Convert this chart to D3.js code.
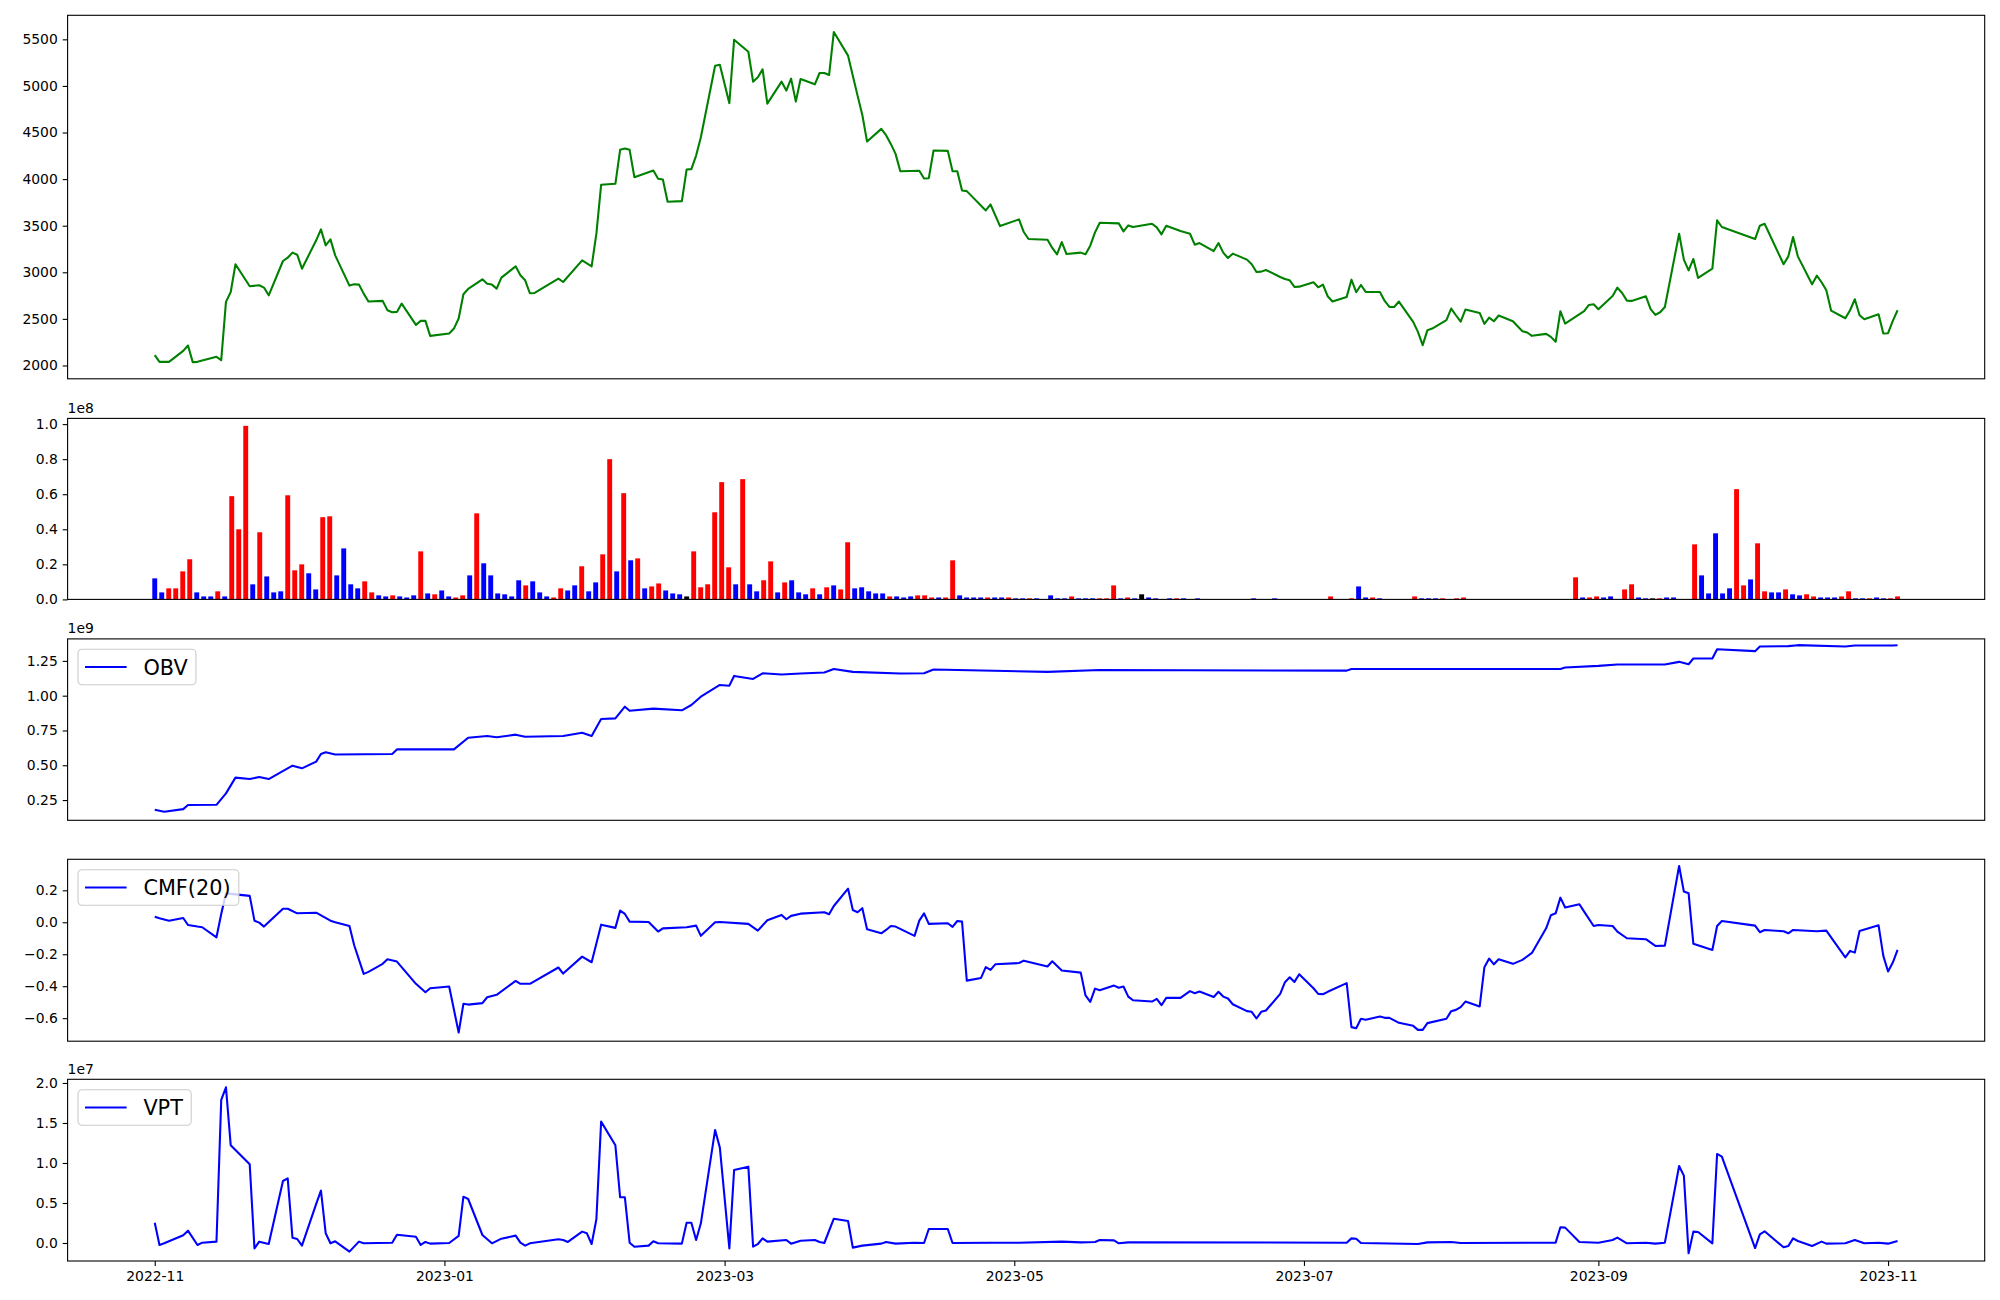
<!DOCTYPE html>
<html lang="en">
<head>
<meta charset="UTF-8">
<title>Price, volume and volume indicators</title>
<script src="https://d3js.org/d3.v7.min.js"></script>
<style>
  body { margin: 0; background: #fff; }
  svg text { font-family: "DejaVu Sans", sans-serif; }
</style>
</head>
<body>
<svg id="chart"></svg>
<script>
// closing price (trading days where the line bends)
const closePrice = [
["2022-11-01",2111],["2022-11-02",2039],["2022-11-04",2039],["2022-11-07",2157],["2022-11-08",2214],["2022-11-09",2036],["2022-11-10",2039],["2022-11-14",2093],["2022-11-15",2057],["2022-11-16",2682],["2022-11-17",2789],["2022-11-18",3086],["2022-11-21",2850],["2022-11-23",2861],["2022-11-24",2836],["2022-11-25",2753],["2022-11-28",3121],["2022-11-29",3157],["2022-11-30",3211],
["2022-12-01",3189],["2022-12-02",3039],["2022-12-05",3343],["2022-12-06",3461],["2022-12-07",3289],["2022-12-08",3353],["2022-12-09",3182],["2022-12-12",2857],["2022-12-13",2871],["2022-12-14",2868],["2022-12-15",2771],["2022-12-16",2686],["2022-12-19",2693],["2022-12-20",2593],["2022-12-21",2571],["2022-12-22",2575],["2022-12-23",2664],["2022-12-26",2436],["2022-12-27",2479],["2022-12-28",2479],["2022-12-29",2318],
["2023-01-02",2343],["2023-01-03",2396],["2023-01-04",2504],["2023-01-05",2764],["2023-01-06",2821],["2023-01-09",2925],["2023-01-10",2878],["2023-01-11",2868],["2023-01-12",2825],["2023-01-13",2943],["2023-01-16",3064],["2023-01-17",2968],["2023-01-18",2914],["2023-01-19",2775],["2023-01-20",2778],["2023-01-25",2932],["2023-01-26",2896],["2023-01-30",3128],
["2023-02-01",3064],["2023-02-02",3414],["2023-02-03",3939],["2023-02-06",3950],["2023-02-07",4314],["2023-02-08",4328],["2023-02-09",4314],["2023-02-10",4021],["2023-02-14",4093],["2023-02-15",4003],["2023-02-16",3996],["2023-02-17",3757],["2023-02-20",3764],["2023-02-21",4103],["2023-02-22",4107],["2023-02-23",4253],["2023-02-24",4450],["2023-02-27",5217],["2023-02-28",5228],
["2023-03-02",4814],["2023-03-03",5496],["2023-03-06",5367],["2023-03-07",5046],["2023-03-08",5093],["2023-03-09",5178],["2023-03-10",4810],["2023-03-13",5046],["2023-03-14",4950],["2023-03-15",5078],["2023-03-16",4832],["2023-03-17",5075],["2023-03-20",5017],["2023-03-21",5139],["2023-03-22",5139],["2023-03-23",5117],["2023-03-24",5578],["2023-03-27",5325],["2023-03-28",5110],["2023-03-29",4896],["2023-03-30",4689],["2023-03-31",4403],
["2023-04-03",4539],["2023-04-04",4471],["2023-04-05",4378],["2023-04-06",4271],["2023-04-07",4085],["2023-04-11",4089],["2023-04-12",4007],["2023-04-13",4010],["2023-04-14",4307],["2023-04-17",4303],["2023-04-18",4085],["2023-04-19",4085],["2023-04-20",3878],["2023-04-21",3871],["2023-04-25",3664],["2023-04-26",3728],["2023-04-28",3496],
["2023-05-02",3568],["2023-05-03",3432],["2023-05-04",3357],["2023-05-08",3350],["2023-05-09",3261],["2023-05-10",3193],["2023-05-11",3325],["2023-05-12",3196],["2023-05-15",3211],["2023-05-16",3193],["2023-05-17",3286],["2023-05-18",3428],["2023-05-19",3532],["2023-05-23",3525],["2023-05-24",3439],["2023-05-25",3503],["2023-05-26",3486],["2023-05-30",3521],["2023-05-31",3482],
["2023-06-01",3407],["2023-06-02",3500],["2023-06-05",3443],["2023-06-07",3414],["2023-06-08",3296],["2023-06-09",3314],["2023-06-12",3228],["2023-06-13",3314],["2023-06-14",3211],["2023-06-15",3153],["2023-06-16",3200],["2023-06-19",3136],["2023-06-20",3086],["2023-06-21",3003],["2023-06-22",3007],["2023-06-23",3025],["2023-06-26",2950],["2023-06-27",2928],["2023-06-28",2914],["2023-06-29",2843],["2023-06-30",2846],
["2023-07-03",2893],["2023-07-04",2839],["2023-07-05",2868],["2023-07-06",2743],["2023-07-07",2686],["2023-07-10",2736],["2023-07-11",2921],["2023-07-12",2786],["2023-07-13",2864],["2023-07-14",2789],["2023-07-17",2789],["2023-07-18",2693],["2023-07-19",2628],["2023-07-20",2628],["2023-07-21",2686],["2023-07-24",2468],["2023-07-25",2361],["2023-07-26",2218],["2023-07-27",2379],["2023-07-28",2396],["2023-07-31",2486],
["2023-08-01",2611],["2023-08-02",2539],["2023-08-03",2471],["2023-08-04",2600],["2023-08-07",2564],["2023-08-08",2446],["2023-08-09",2514],["2023-08-10",2475],["2023-08-11",2536],["2023-08-14",2475],["2023-08-16",2368],["2023-08-17",2354],["2023-08-18",2318],["2023-08-21",2339],["2023-08-22",2307],["2023-08-23",2254],["2023-08-24",2582],["2023-08-25",2450],["2023-08-29",2582],["2023-08-30",2650],["2023-08-31",2657],
["2023-09-01",2604],["2023-09-04",2746],["2023-09-05",2836],["2023-09-06",2778],["2023-09-07",2696],["2023-09-08",2693],["2023-09-11",2743],["2023-09-12",2604],["2023-09-13",2543],["2023-09-14",2571],["2023-09-15",2628],["2023-09-18",3414],["2023-09-19",3136],["2023-09-20",3021],["2023-09-21",3143],["2023-09-22",2939],["2023-09-25",3039],["2023-09-26",3557],["2023-09-27",3486],
["2023-10-04",3357],["2023-10-05",3500],["2023-10-06",3521],["2023-10-10",3086],["2023-10-11",3171],["2023-10-12",3378],["2023-10-13",3171],["2023-10-16",2871],["2023-10-17",2964],["2023-10-18",2893],["2023-10-19",2807],["2023-10-20",2589],["2023-10-23",2507],["2023-10-24",2593],["2023-10-25",2711],["2023-10-26",2539],["2023-10-27",2496],["2023-10-30",2550],["2023-10-31",2343],
["2023-11-01",2346],["2023-11-02",2479],["2023-11-03",2593]
];

// daily volume in millions, one per trading day (250 days), plotted by index
const volume = [
12,4,6.3,6.3,16,22.9,4,1.7,1.7,4.6,
1.7,58.9,40,99,8.6,38.3,13.1,4,4.6,59.4,
16.6,20,14.9,5.7,46.9,47.4,13.7,29.1,8.6,6.3,
10.3,4,2.3,1.7,2.3,1.7,1.1,2.3,27.4,3.4,
2.9,5.1,1.7,1.1,2.3,13.7,49.1,20.6,13.7,3.4,
2.9,1.7,10.9,8,10.3,4,1.7,1.1,6.3,5.1,
8,18.9,4.6,9.7,25.7,80,16,60.6,22.3,23.4,
6.3,7.4,9.1,5.1,3.4,2.9,1.7,27.4,6.9,8.6,
49.7,66.9,18.3,8.6,68.6,8.6,4.6,10.9,21.7,4,
9.7,10.9,4,2.9,6.3,2.9,6.9,8,5.7,32.6,
6.3,6.9,4.6,3.4,3.4,1.7,1.7,1.1,1.7,2.3,
2.3,1.1,1.1,1.1,22.3,2.3,1.1,1.1,1.1,1.1,
1.1,1.1,1.1,0.6,0.6,0.6,0.6,0,2.3,0.6,
0.6,1.7,0.6,0.6,0.6,0.6,0.6,8,0.6,1.1,
0.6,2.9,1.1,0.6,0,0.6,0.6,0.6,0,0.6,
0,0,0,0,0,0,0,0.6,0,0,
0.6,0,0,0,0,0,0,0,1.7,0,
0,0.6,7.4,1.1,1.1,0.6,0,0,0,0,
1.7,0.6,0.6,0.6,0.6,0,0.6,1.1,0,0,
0,0,0,0,0,0,0,0,0,0,
0,0,0,12.6,1.1,1.1,1.7,1.1,1.7,0,
5.7,8.6,1.1,0.6,0.6,0.6,1.1,1.1,0,0,
31.4,13.7,3.4,37.7,3.4,6.3,62.9,8,11.4,32,
4.6,4,4,5.7,2.9,2.3,2.9,1.7,1.1,1.1,
1.1,1.7,4.6,0.6,0.6,0.6,1.1,0.6,0.6,1.7
];

// 1 = close up, -1 = close down, 0 = unchanged
const volumeDir = [
-1,-1,1,1,1,1,-1,-1,-1,1,
-1,1,1,1,-1,1,-1,-1,-1,1,
1,1,-1,-1,1,1,-1,-1,-1,-1,
1,1,-1,-1,1,-1,-1,-1,1,-1,
1,-1,-1,1,1,-1,1,-1,-1,-1,
-1,-1,-1,1,-1,-1,-1,1,1,-1,
-1,1,-1,-1,1,1,-1,1,-1,1,
-1,1,1,-1,-1,-1,0,1,1,1,
1,1,1,-1,1,-1,-1,1,1,-1,
1,-1,-1,-1,1,-1,1,-1,1,1,
-1,-1,-1,-1,-1,1,-1,-1,-1,1,
1,1,-1,1,1,-1,-1,-1,-1,1,
-1,-1,1,-1,-1,1,-1,0,-1,-1,
-1,1,-1,-1,-1,1,1,1,-1,1,
-1,0,-1,-1,0,-1,1,-1,0,-1,
0,0,0,0,0,0,0,-1,0,0,
-1,0,0,0,0,0,0,0,1,0,
0,1,-1,-1,1,-1,0,0,0,0,
1,-1,-1,-1,1,0,1,1,0,0,
0,0,0,0,0,0,0,0,0,0,
0,0,0,1,-1,1,1,-1,-1,0,
1,1,-1,-1,0,1,-1,-1,0,0,
1,-1,-1,-1,-1,-1,1,1,-1,1,
1,-1,-1,1,-1,-1,1,1,-1,-1,
-1,1,1,-1,-1,1,-1,-1,1,1
];

// on-balance volume, millions
const obv = [
["2022-11-01",180],["2022-11-03",166],["2022-11-07",185],["2022-11-08",214],["2022-11-14",216],["2022-11-16",298],["2022-11-18",411],["2022-11-21",401],["2022-11-23",415],["2022-11-25",401],["2022-11-30",497],["2022-12-02",478],["2022-12-05",526],["2022-12-06",581],["2022-12-07",593],["2022-12-09",578],["2022-12-21",581],["2022-12-22",614],
["2023-01-03",614],["2023-01-06",698],["2023-01-10",710],["2023-01-12",701],["2023-01-16",720],["2023-01-18",705],["2023-01-26",710],["2023-01-30",734],["2023-02-01",710],["2023-02-03",833],["2023-02-06",837],["2023-02-08",921],["2023-02-09",892],["2023-02-14",907],["2023-02-20",895],["2023-02-22",933],["2023-02-24",993],["2023-02-28",1077],
["2023-03-02",1072],["2023-03-03",1142],["2023-03-07",1120],["2023-03-09",1161],["2023-03-13",1152],["2023-03-17",1159],["2023-03-22",1166],["2023-03-24",1192],["2023-03-28",1171],["2023-04-07",1159],["2023-04-12",1161],["2023-04-14",1188],["2023-05-08",1171],["2023-05-19",1185],
["2023-07-10",1180],["2023-07-11",1192],["2023-08-24",1192],["2023-08-25",1202],["2023-09-01",1214],["2023-09-05",1224],["2023-09-15",1224],["2023-09-18",1243],["2023-09-20",1226],["2023-09-21",1267],["2023-09-25",1267],["2023-09-26",1334],
["2023-10-04",1320],["2023-10-05",1353],["2023-10-11",1356],["2023-10-13",1363],["2023-10-23",1353],["2023-10-25",1360],["2023-11-02",1360],["2023-11-03",1362]
];

// Chaikin money flow, 20 days
const cmf = [
["2022-11-01",0.035],["2022-11-02",0.025],["2022-11-04",0.010],["2022-11-07",0.027],["2022-11-08",-0.017],["2022-11-10",-0.027],["2022-11-11",-0.031],["2022-11-14",-0.094],["2022-11-15",0.052],["2022-11-16",0.181],["2022-11-21",0.165],["2022-11-22",0.010],["2022-11-23",-0.002],["2022-11-24",-0.027],["2022-11-28",0.085],["2022-11-29",0.085],
["2022-12-01",0.056],["2022-12-05",0.060],["2022-12-08",0.010],["2022-12-09",0.000],["2022-12-12",-0.023],["2022-12-13",-0.144],["2022-12-15",-0.323],["2022-12-16",-0.310],["2022-12-19",-0.260],["2022-12-20",-0.231],["2022-12-22",-0.246],["2022-12-26",-0.385],["2022-12-28",-0.438],["2022-12-29",-0.413],
["2023-01-02",-0.402],["2023-01-04",-0.690],["2023-01-05",-0.510],["2023-01-06",-0.515],["2023-01-09",-0.506],["2023-01-10",-0.469],["2023-01-12",-0.454],["2023-01-16",-0.367],["2023-01-17",-0.385],["2023-01-19",-0.385],["2023-01-25",-0.283],["2023-01-26",-0.321],["2023-01-30",-0.215],
["2023-02-01",-0.250],["2023-02-03",-0.015],["2023-02-06",-0.035],["2023-02-07",0.073],["2023-02-08",0.052],["2023-02-09",0.004],["2023-02-13",0.002],["2023-02-15",-0.058],["2023-02-16",-0.038],["2023-02-21",-0.031],["2023-02-23",-0.021],["2023-02-24",-0.085],["2023-02-27",0.000],["2023-02-28",0.002],
["2023-03-06",-0.010],["2023-03-08",-0.052],["2023-03-10",0.013],["2023-03-13",0.046],["2023-03-14",0.019],["2023-03-15",0.040],["2023-03-17",0.054],["2023-03-22",0.063],["2023-03-23",0.050],["2023-03-24",0.102],["2023-03-27",0.210],["2023-03-28",0.077],["2023-03-29",0.063],["2023-03-30",0.088],["2023-03-31",-0.044],
["2023-04-03",-0.069],["2023-04-04",-0.048],["2023-04-05",-0.023],["2023-04-06",-0.027],["2023-04-10",-0.085],["2023-04-11",0.010],["2023-04-12",0.056],["2023-04-13",-0.010],["2023-04-17",-0.006],["2023-04-18",-0.029],["2023-04-19",0.008],["2023-04-20",0.004],["2023-04-21",-0.365],["2023-04-24",-0.348],["2023-04-25",-0.281],["2023-04-26",-0.298],["2023-04-27",-0.263],
["2023-05-02",-0.255],["2023-05-03",-0.240],["2023-05-08",-0.277],["2023-05-09",-0.244],["2023-05-11",-0.302],["2023-05-15",-0.315],["2023-05-16",-0.458],["2023-05-17",-0.498],["2023-05-18",-0.415],["2023-05-19",-0.425],["2023-05-22",-0.396],["2023-05-23",-0.410],["2023-05-24",-0.402],["2023-05-25",-0.465],["2023-05-26",-0.488],["2023-05-30",-0.496],["2023-05-31",-0.479],
["2023-06-01",-0.519],["2023-06-02",-0.473],["2023-06-05",-0.473],["2023-06-07",-0.431],["2023-06-08",-0.444],["2023-06-09",-0.433],["2023-06-12",-0.467],["2023-06-13",-0.435],["2023-06-14",-0.465],["2023-06-15",-0.477],["2023-06-16",-0.513],["2023-06-19",-0.556],["2023-06-20",-0.560],["2023-06-21",-0.602],["2023-06-22",-0.560],["2023-06-23",-0.552],["2023-06-26",-0.448],["2023-06-27",-0.375],["2023-06-28",-0.344],["2023-06-29",-0.373],["2023-06-30",-0.325],
["2023-07-03",-0.413],["2023-07-04",-0.448],["2023-07-05",-0.450],["2023-07-06",-0.435],["2023-07-10",-0.381],["2023-07-11",-0.656],["2023-07-12",-0.663],["2023-07-13",-0.604],["2023-07-14",-0.610],["2023-07-17",-0.590],["2023-07-18",-0.598],["2023-07-19",-0.598],["2023-07-21",-0.629],["2023-07-24",-0.648],["2023-07-25",-0.673],["2023-07-26",-0.673],["2023-07-27",-0.631],["2023-07-31",-0.604],
["2023-08-01",-0.556],["2023-08-02",-0.548],["2023-08-03",-0.531],["2023-08-04",-0.496],["2023-08-07",-0.527],["2023-08-08",-0.281],["2023-08-09",-0.227],["2023-08-10",-0.263],["2023-08-11",-0.231],["2023-08-14",-0.260],["2023-08-16",-0.235],["2023-08-18",-0.192],["2023-08-21",-0.038],["2023-08-22",0.044],["2023-08-23",0.056],["2023-08-24",0.154],["2023-08-25",0.092],["2023-08-28",0.113],["2023-08-29",0.067],["2023-08-31",-0.023],
["2023-09-01",-0.017],["2023-09-04",-0.023],["2023-09-05",-0.058],["2023-09-07",-0.100],["2023-09-11",-0.106],["2023-09-13",-0.148],["2023-09-15",-0.146],["2023-09-18",0.352],["2023-09-19",0.192],["2023-09-20",0.181],["2023-09-21",-0.135],["2023-09-25",-0.173],["2023-09-26",-0.023],["2023-09-27",0.008],
["2023-10-04",-0.021],["2023-10-05",-0.062],["2023-10-06",-0.048],["2023-10-10",-0.056],["2023-10-11",-0.069],["2023-10-12",-0.048],["2023-10-17",-0.056],["2023-10-19",-0.052],["2023-10-23",-0.219],["2023-10-24",-0.179],["2023-10-25",-0.190],["2023-10-26",-0.054],["2023-10-30",-0.019],["2023-10-31",-0.210],
["2023-11-01",-0.308],["2023-11-02",-0.252],["2023-11-03",-0.173]
];

// volume price trend, millions
const vpt = [
["2022-11-01",2.54],["2022-11-02",-0.25],["2022-11-03",-0.04],["2022-11-07",0.96],["2022-11-08",1.54],["2022-11-10",-0.25],["2022-11-11",0.04],["2022-11-14",0.17],["2022-11-15",17.88],["2022-11-16",19.46],["2022-11-17",12.21],["2022-11-21",9.83],["2022-11-22",-0.67],["2022-11-23",0.17],["2022-11-25",-0.13],["2022-11-28",7.75],["2022-11-29",8.08],["2022-11-30",0.67],
["2022-12-01",0.50],["2022-12-02",-0.33],["2022-12-05",4.88],["2022-12-06",6.54],["2022-12-07",1.21],["2022-12-08",-0.04],["2022-12-09",0.21],["2022-12-12",-1.08],["2022-12-14",0.17],["2022-12-15",-0.04],["2022-12-21",0.04],["2022-12-22",1.04],["2022-12-26",0.79],["2022-12-27",-0.25],["2022-12-28",0.13],["2022-12-29",-0.08],
["2023-01-02",0.00],["2023-01-04",0.88],["2023-01-05",5.79],["2023-01-06",5.50],["2023-01-09",1.00],["2023-01-11",-0.04],["2023-01-13",0.54],["2023-01-16",0.92],["2023-01-17",0.04],["2023-01-18",-0.33],["2023-01-19",-0.04],["2023-01-25",0.46],["2023-01-26",0.38],["2023-01-27",0.13],["2023-01-30",1.42],["2023-01-31",1.21],
["2023-02-01",-0.13],["2023-02-02",2.96],["2023-02-03",15.17],["2023-02-06",12.21],["2023-02-07",5.71],["2023-02-08",5.71],["2023-02-09",0.04],["2023-02-10",-0.46],["2023-02-13",-0.33],["2023-02-14",0.21],["2023-02-15",-0.04],["2023-02-20",-0.08],["2023-02-21",2.54],["2023-02-22",2.54],["2023-02-23",0.38],["2023-02-24",2.46],["2023-02-27",14.13],["2023-02-28",11.92],
["2023-03-02",-0.67],["2023-03-03",9.13],["2023-03-06",9.54],["2023-03-07",-0.46],["2023-03-08",-0.13],["2023-03-09",0.58],["2023-03-10",0.17],["2023-03-14",0.38],["2023-03-15",-0.08],["2023-03-17",0.29],["2023-03-20",0.38],["2023-03-21",0.13],["2023-03-22",0.00],["2023-03-24",3.04],["2023-03-27",2.75],["2023-03-28",-0.58],["2023-03-30",-0.33],
["2023-04-03",-0.08],["2023-04-04",0.13],["2023-04-06",-0.08],["2023-04-10",0.04],["2023-04-12",0.00],["2023-04-13",1.75],["2023-04-17",1.75],["2023-04-18",0.00],["2023-04-26",0.04],
["2023-05-02",0.04],["2023-05-11",0.17],["2023-05-15",0.08],["2023-05-18",0.13],["2023-05-19",0.38],["2023-05-22",0.33],["2023-05-23",-0.04],["2023-05-25",0.08],
["2023-07-10",0.04],["2023-07-11",0.58],["2023-07-12",0.54],["2023-07-13",0.00],["2023-07-25",-0.13],["2023-07-27",0.08],["2023-08-01",0.13],["2023-08-03",0.00],["2023-08-23",0.04],["2023-08-24",1.96],["2023-08-25",1.92],["2023-08-28",0.13],
["2023-09-01",0.04],["2023-09-04",0.38],["2023-09-05",0.67],["2023-09-07",-0.04],["2023-09-11",0.04],["2023-09-13",-0.08],["2023-09-15",0.04],["2023-09-18",9.63],["2023-09-19",8.42],["2023-09-20",-1.29],["2023-09-21",1.42],["2023-09-22",1.38],["2023-09-25",-0.04],["2023-09-26",11.13],["2023-09-27",10.79],
["2023-10-04",-0.63],["2023-10-05",1.08],["2023-10-06",1.46],["2023-10-10",-0.54],["2023-10-11",-0.38],["2023-10-12",0.58],["2023-10-13",0.25],["2023-10-16",-0.38],["2023-10-18",0.17],["2023-10-19",-0.08],["2023-10-23",-0.04],["2023-10-25",0.38],["2023-10-27",-0.04],["2023-10-30",0.04],
["2023-11-01",-0.08],["2023-11-03",0.25]
];

const dateTicks = ["2022-11-01","2023-01-01","2023-03-01","2023-05-01","2023-07-01","2023-09-01","2023-11-01"];
const priceTicks = [2000,2500,3000,3500,4000,4500,5000,5500];
const volumeTicks = [0,20,40,60,80,100];
const obvTicks = [250,500,750,1000,1250];
const cmfTicks = [-0.6,-0.4,-0.2,0,0.2];
const vptTicks = [0,5,10,15,20];

// ---------------- layout ----------------
const W = 2000, H = 1300;
const L = 67.6, R = 1984.7;
const panels = [
  { top: 15.3, bottom: 378.8 },
  { top: 418.4, bottom: 599.4 },
  { top: 638.9, bottom: 820.3 },
  { top: 859.3, bottom: 1041.2 },
  { top: 1079.3, bottom: 1261.0 }
];
const fs = 13.9, legendFs = 20.8, tickLen = 4.9, tickPad = 4.9;

const svg = d3.select("#chart").attr("width", W).attr("height", H);
svg.append("rect").attr("width", W).attr("height", H).attr("fill", "#fff");

const parse = d3.utcParse("%Y-%m-%d");
const first = parse(closePrice[0][0]), last = parse(closePrice[closePrice.length - 1][0]);
const span = last - first;
const x = d3.scaleUtc()
  .domain([new Date(+first - span * 0.05), new Date(+last + span * 0.05)])
  .range([L, R]);

const n = volume.length;
const xi = d3.scaleLinear()
  .domain([-(n - 1) * 0.05, (n - 1) * 1.05])
  .range([L, R]);

function yAxis(y, ticks, fmt) {
  const g = svg.append("g").attr("transform", `translate(${L},0)`)
    .call(d3.axisLeft(y).tickValues(ticks).tickFormat(fmt).tickSize(tickLen).tickPadding(tickPad));
  g.select(".domain").remove();
  g.attr("font-family", "DejaVu Sans").attr("font-size", fs);
  g.selectAll("text").attr("fill", "#000");
  g.selectAll("line").attr("stroke", "#000").attr("stroke-width", 1.1);
}

function frame(p) {
  svg.append("rect")
    .attr("x", L).attr("y", p.top)
    .attr("width", R - L).attr("height", p.bottom - p.top)
    .attr("fill", "none").attr("stroke", "#000").attr("stroke-width", 1.1);
}

function offsetLabel(p, txt) {
  svg.append("text").attr("x", L).attr("y", p.top - 5.5)
    .attr("font-size", fs).attr("fill", "#000").text(txt);
}

function drawLine(data, y, color) {
  const line = d3.line().x(d => x(parse(d[0]))).y(d => y(d[1]));
  svg.append("path").datum(data)
    .attr("d", line)
    .attr("fill", "none")
    .attr("stroke", color)
    .attr("stroke-width", 2.08)
    .attr("stroke-linejoin", "round");
}

function legend(p, label, color) {
  const g = svg.append("g").attr("transform", `translate(${L + 10.4},${p.top + 10.4})`);
  const box = g.append("rect").attr("height", 35.5).attr("rx", 4)
    .attr("fill", "#fff").attr("fill-opacity", 0.8)
    .attr("stroke", "#cccccc").attr("stroke-width", 1.1);
  g.append("line").attr("x1", 7).attr("x2", 48.6).attr("y1", 17.75).attr("y2", 17.75)
    .attr("stroke", color).attr("stroke-width", 2.08);
  const t = g.append("text").attr("x", 65.4).attr("y", 17.75).attr("dy", "0.36em")
    .attr("font-size", legendFs).attr("fill", "#000").text(label);
  box.attr("width", 65.4 + t.node().getComputedTextLength() + 8.3);
}

const minus = v => (v < 0 ? "\u2212" : "") + Math.abs(v).toFixed(1);

// ---------------- panel 1: price ----------------
{
  const p = panels[0];
  const y = d3.scaleLinear().domain([1857, 5758]).range([p.bottom, p.top]);
  drawLine(closePrice, y, "#008000");
  yAxis(y, priceTicks, d => d);
  frame(p);
}

// ---------------- panel 2: volume ----------------
{
  const p = panels[1];
  const y = d3.scaleLinear().domain([0, 103.26]).range([p.bottom, p.top]);
  const bw = 0.7;
  const colors = { "1": "#ff0000", "-1": "#0000ff", "0": "#000000" };
  svg.append("g").selectAll("rect")
    .data(volume.map((v, i) => ({ i, v, dir: volumeDir[i] })).filter(d => d.v > 0))
    .enter().append("rect")
    .attr("x", d => xi(d.i - bw / 2))
    .attr("width", xi(bw) - xi(0))
    .attr("y", d => y(d.v))
    .attr("height", d => y(0) - y(d.v))
    .attr("fill", d => colors[d.dir]);
  yAxis(y, volumeTicks, d => (d / 100).toFixed(1));
  offsetLabel(p, "1e8");
  frame(p);
}

// ---------------- panel 3: OBV ----------------
{
  const p = panels[2];
  const y = d3.scaleLinear().domain([104.6, 1408]).range([p.bottom, p.top]);
  drawLine(obv, y, "#0000ff");
  yAxis(y, obvTicks, d => (d / 1000).toFixed(2));
  offsetLabel(p, "1e9");
  frame(p);
  legend(p, "OBV", "#0000ff");
}

// ---------------- panel 4: CMF ----------------
{
  const p = panels[3];
  const y = d3.scaleLinear().domain([-0.744, 0.394]).range([p.bottom, p.top]);
  drawLine(cmf, y, "#0000ff");
  yAxis(y, cmfTicks, minus);
  frame(p);
  legend(p, "CMF(20)", "#0000ff");
}

// ---------------- panel 5: VPT ----------------
{
  const p = panels[4];
  const y = d3.scaleLinear().domain([-2.25, 20.46]).range([p.bottom, p.top]);
  drawLine(vpt, y, "#0000ff");
  yAxis(y, vptTicks, d => (d / 10).toFixed(1));
  offsetLabel(p, "1e7");
  frame(p);
  legend(p, "VPT", "#0000ff");

  const gx = svg.append("g").attr("transform", `translate(0,${p.bottom})`)
    .call(d3.axisBottom(x).tickValues(dateTicks.map(parse))
      .tickFormat(d3.utcFormat("%Y-%m")).tickSize(tickLen).tickPadding(tickPad));
  gx.select(".domain").remove();
  gx.attr("font-family", "DejaVu Sans").attr("font-size", fs);
  gx.selectAll("text").attr("fill", "#000");
  gx.selectAll("line").attr("stroke", "#000").attr("stroke-width", 1.1);
}
</script>
</body>
</html>
